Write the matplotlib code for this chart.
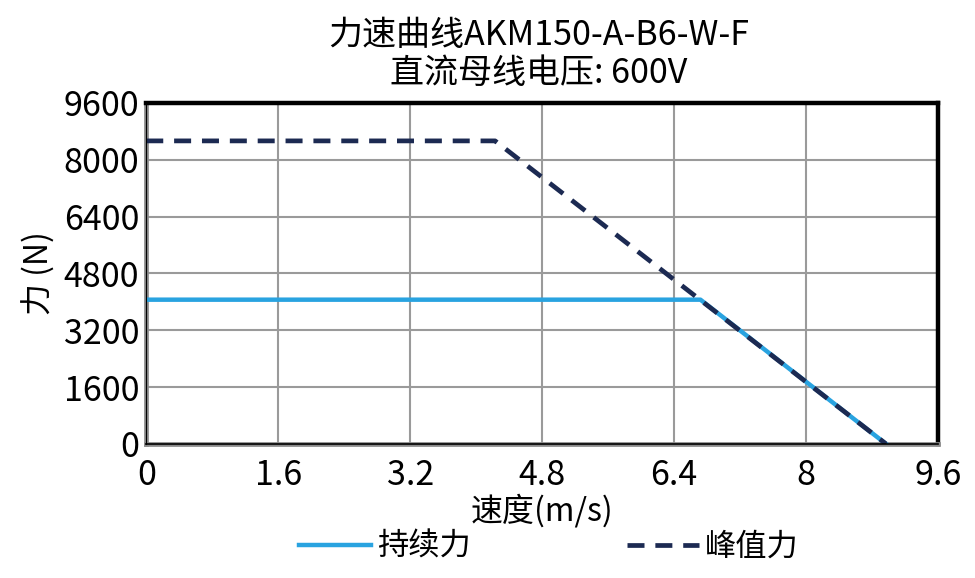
import matplotlib
matplotlib.use("Agg")
import matplotlib.pyplot as plt

plt.rcParams['font.family'] = ['Noto Sans CJK SC', 'DejaVu Sans']

# data
cont_speed = [0, 6.72, 8.97]
cont_force = [4060, 4060, 0]
peak_speed = [0, 4.23, 8.97]
peak_force = [8530, 8530, 0]
xticks = [0, 1.6, 3.2, 4.8, 6.4, 8, 9.6]
xtick_labels = ["0", "1.6", "3.2", "4.8", "6.4", "8", "9.6"]
yticks = [0, 1600, 3200, 4800, 6400, 8000, 9600]
ytick_labels = ["0", "1600", "3200", "4800", "6400", "8000", "9600"]

fig = plt.figure(figsize=(9.75, 5.78), dpi=100)
ax = fig.add_axes([0.150, 0.232, 0.812, 0.590])

ax.plot(cont_speed, cont_force, color='#29A3E0', lw=3.2, label='持续力', zorder=3)
ax.plot(peak_speed, peak_force, color='#1C2A52', lw=3.4, ls=(0, (3.6, 2.3)), label='峰值力', zorder=4)

ax.set_xlim(0, 9.6)
ax.set_ylim(0, 9600)
ax.set_xticks(xticks)
ax.set_xticklabels(xtick_labels)
ax.set_yticks(yticks)
ax.set_yticklabels(ytick_labels)
ax.tick_params(axis='both', length=0, labelsize=24.5)
ax.tick_params(axis='x', pad=10)
ax.tick_params(axis='y', pad=5)
ax.grid(True, color='#9a9a9a', lw=1.5, zorder=0)

for s in ['top', 'right']:
    ax.spines[s].set_color('black')
    ax.spines[s].set_linewidth(3.2)
for s in ['left', 'bottom']:
    ax.spines[s].set_color('#8a8a8a')
    ax.spines[s].set_linewidth(3.4)
ax.axhline(0, color='black', lw=1.2, zorder=5, clip_on=False)
ax.axvline(0, color='black', lw=0.8, zorder=5, clip_on=False)

ax.set_xlabel('速度(m/s)', fontsize=23, labelpad=1)
ax.set_ylabel('力 (N)', fontsize=23, labelpad=6)

fig.text(0.552, 0.938, '力速曲线AKM150-A-B6-W-F', ha='center', va='center', fontsize=24.5)
fig.text(0.552, 0.873, '直流母线电压: 600V', ha='center', va='center', fontsize=24.5)

leg = fig.legend(loc='center', bbox_to_anchor=(0.563, 0.054), ncol=2, frameon=False,
                 fontsize=22.5, handlelength=2.3, handletextpad=0.2, columnspacing=5.0)

fig.savefig('out.png', dpi=100)
